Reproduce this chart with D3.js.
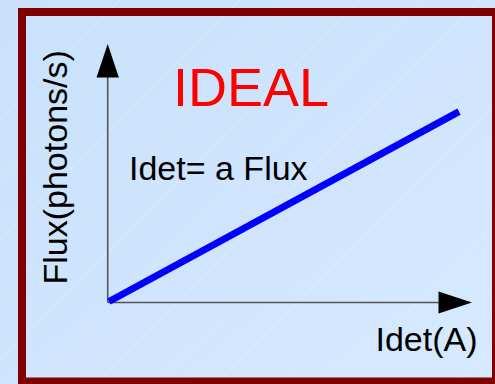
<!DOCTYPE html>
<html>
<head>
<meta charset="utf-8">
<script src="https://cdn.jsdelivr.net/npm/d3@7"></script>
<style>
html,body{margin:0;padding:0;background:#cfe5fd;}
svg{display:block;}
text{font-family:"Liberation Sans",Arial,sans-serif;}
</style>
</head>
<body>
<script>
// Data
const idetValues = [0, 1];
const fluxValues = [0, 1];
const titleText = "IDEAL";
const equationText = "Idet= a Flux";
const xLabel = "Idet(A)";
const yLabel = "Flux(photons/s)";

const W = 495, H = 384;
const svg = d3.select("body").append("svg").attr("width", W).attr("height", H);

const defs = svg.append("defs");
const grad = defs.append("linearGradient").attr("id","bg").attr("x1","0").attr("y1","0").attr("x2","1").attr("y2","1");
grad.append("stop").attr("offset","0").attr("stop-color","#c9e1fb");
grad.append("stop").attr("offset","1").attr("stop-color","#d6e9ff");
const pat = defs.append("pattern").attr("id","stripes").attr("patternUnits","userSpaceOnUse")
  .attr("width",60).attr("height",60);
pat.append("line").attr("x1",0).attr("y1",60).attr("x2",60).attr("y2",0)
  .attr("stroke","#ffffff").attr("stroke-opacity",0.25).attr("stroke-width",0.8);

svg.append("rect").attr("width",W).attr("height",H).attr("fill","url(#bg)");
svg.append("rect").attr("width",W).attr("height",H).attr("fill","url(#stripes)");

// Frame
svg.append("rect").attr("x",22).attr("y",12).attr("width",474).attr("height",369.5)
  .attr("fill","none").attr("stroke","#800000").attr("stroke-width",8);

// Scales
const x = d3.scaleLinear().domain([0,1]).range([109,459]);
const y = d3.scaleLinear().domain([0,1]).range([301.5,111.7]);

const ax0 = 107.7, ay0 = 302.5;
// axes
svg.append("line").attr("x1",ax0).attr("y1",ay0).attr("x2",ax0).attr("y2",76)
  .attr("stroke","#555").attr("stroke-width",1.6);
svg.append("line").attr("x1",ax0).attr("y1",ay0).attr("x2",440).attr("y2",ay0)
  .attr("stroke","#555").attr("stroke-width",1.6);
// arrowheads
svg.append("path").attr("d",`M${ax0},44 L${ax0+11.2},77.5 L${ax0-11.2},77.5 Z`).attr("fill","#000");
svg.append("path").attr("d",`M472,${ay0} L438.5,${ay0-11} L438.5,${ay0+11} Z`).attr("fill","#000");

// Line
const line = d3.line().x((d,i)=>x(idetValues[i])).y((d,i)=>y(fluxValues[i]));
svg.append("path").datum(idetValues).attr("d",line)
  .attr("fill","none").attr("stroke","#0000ff").attr("stroke-width",7);

// Texts
svg.append("text").attr("x",173).attr("y",105.5).attr("font-size",54).attr("fill","#ff0000").text(titleText);
svg.append("text").attr("x",129).attr("y",180).attr("font-size",34).attr("fill","#000").text(equationText);
svg.append("text").attr("x",375.5).attr("y",350.5).attr("font-size",34).attr("fill","#000").text(xLabel);
svg.append("text").attr("transform","translate(67,283) rotate(-90)").attr("x",-1.5).attr("y",0)
  .attr("font-size",34).attr("fill","#000").text(yLabel);
</script>
</body>
</html>
